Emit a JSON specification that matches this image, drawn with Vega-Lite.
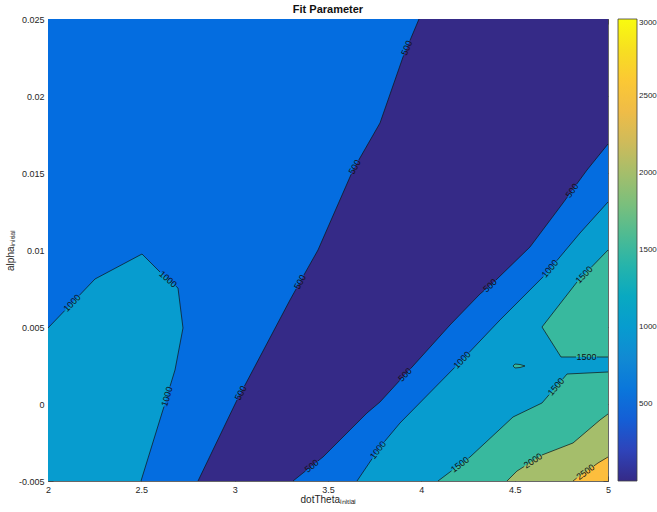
{
  "$schema": "https://vega.github.io/schema/vega-lite/v6.json",
  "width": 560,
  "height": 462,
  "autosize": {"type": "none"},
  "padding": {"left": 48, "top": 19, "right": 49, "bottom": 31},
  "background": "white",
  "title": {"text": "Fit Parameter", "fontSize": 11, "fontWeight": "bold", "font": "Liberation Sans", "color": "#111111", "offset": 0},
  "config": {
    "view": {"stroke": null},
    "axis": {
      "domainColor": "#404040", "domainWidth": 0.8,
      "tickColor": "#404040", "tickWidth": 0.8, "tickSize": -5,
      "labelPadding": 9, "labelFont": "Liberation Sans", "labelFontSize": 9, "labelColor": "#262626",
      "labelFlush": false, "labelOverlap": false,
      "titleFont": "Liberation Sans", "titleFontSize": 10, "titleFontWeight": "normal", "titleColor": "#262626",
      "grid": false, "zindex": 1
    }
  },
  "datasets": {
    "poly": [
      {"id": 0, "level": 500, "i": 0, "x": 2, "y": -0.005},
      {"id": 0, "level": 500, "i": 1, "x": 5, "y": -0.005},
      {"id": 0, "level": 500, "i": 2, "x": 5, "y": 0.025},
      {"id": 0, "level": 500, "i": 3, "x": 2, "y": 0.025},

      {"id": 1, "level": 0, "i": 0, "x": 2.8036, "y": -0.005},
      {"id": 1, "level": 0, "i": 1, "x": 3.0125, "y": 0.00026},
      {"id": 1, "level": 0, "i": 2, "x": 3.2964, "y": 0.006753},
      {"id": 1, "level": 0, "i": 3, "x": 3.4464, "y": 0.01},
      {"id": 1, "level": 0, "i": 4, "x": 3.6339, "y": 0.015195},
      {"id": 1, "level": 0, "i": 5, "x": 3.7786, "y": 0.018247},
      {"id": 1, "level": 0, "i": 6, "x": 3.9018, "y": 0.022532},
      {"id": 1, "level": 0, "i": 7, "x": 3.9875, "y": 0.025},
      {"id": 1, "level": 0, "i": 8, "x": 5, "y": 0.025},
      {"id": 1, "level": 0, "i": 9, "x": 5, "y": 0.016883},
      {"id": 1, "level": 0, "i": 10, "x": 4.8875, "y": 0.015195},
      {"id": 1, "level": 0, "i": 11, "x": 4.7589, "y": 0.013052},
      {"id": 1, "level": 0, "i": 12, "x": 4.5821, "y": 0.010195},
      {"id": 1, "level": 0, "i": 13, "x": 4.3839, "y": 0.007857},
      {"id": 1, "level": 0, "i": 14, "x": 4.3143, "y": 0.007143},
      {"id": 1, "level": 0, "i": 15, "x": 4.1536, "y": 0.00513},
      {"id": 1, "level": 0, "i": 16, "x": 3.9554, "y": 0.002468},
      {"id": 1, "level": 0, "i": 17, "x": 3.7786, "y": 0.00013},
      {"id": 1, "level": 0, "i": 18, "x": 3.7089, "y": -0.000584},
      {"id": 1, "level": 0, "i": 19, "x": 3.4732, "y": -0.003442},
      {"id": 1, "level": 0, "i": 20, "x": 3.3125, "y": -0.005},

      {"id": 2, "level": 1000, "i": 0, "x": 2, "y": -0.005},
      {"id": 2, "level": 1000, "i": 1, "x": 2, "y": 0.004935},
      {"id": 2, "level": 1000, "i": 2, "x": 2.2518, "y": 0.008117},
      {"id": 2, "level": 1000, "i": 3, "x": 2.5036, "y": 0.00974},
      {"id": 2, "level": 1000, "i": 4, "x": 2.6, "y": 0.008571},
      {"id": 2, "level": 1000, "i": 5, "x": 2.6964, "y": 0.007532},
      {"id": 2, "level": 1000, "i": 6, "x": 2.7232, "y": 0.004935},
      {"id": 2, "level": 1000, "i": 7, "x": 2.6804, "y": 0.002208},
      {"id": 2, "level": 1000, "i": 8, "x": 2.6107, "y": -0.000584},
      {"id": 2, "level": 1000, "i": 9, "x": 2.4982, "y": -0.005},

      {"id": 3, "level": 1000, "i": 0, "x": 3.6554, "y": -0.005},
      {"id": 3, "level": 1000, "i": 1, "x": 3.7786, "y": -0.002792},
      {"id": 3, "level": 1000, "i": 2, "x": 3.8857, "y": -0.001234},
      {"id": 3, "level": 1000, "i": 3, "x": 4.2179, "y": 0.002857},
      {"id": 3, "level": 1000, "i": 4, "x": 4.4214, "y": 0.005455},
      {"id": 3, "level": 1000, "i": 5, "x": 4.6518, "y": 0.008247},
      {"id": 3, "level": 1000, "i": 6, "x": 4.85, "y": 0.011104},
      {"id": 3, "level": 1000, "i": 7, "x": 5, "y": 0.013117},
      {"id": 3, "level": 1000, "i": 8, "x": 5, "y": -0.005},

      {"id": 4, "level": 1500, "i": 0, "x": 5, "y": 0.01},
      {"id": 4, "level": 1500, "i": 1, "x": 4.8339, "y": 0.007922},
      {"id": 4, "level": 1500, "i": 2, "x": 4.6464, "y": 0.005},
      {"id": 4, "level": 1500, "i": 3, "x": 4.7482, "y": 0.003052},
      {"id": 4, "level": 1500, "i": 4, "x": 5, "y": 0.003052},

      {"id": 5, "level": 1500, "i": 0, "x": 5, "y": 0.002078},
      {"id": 5, "level": 1500, "i": 1, "x": 4.7804, "y": 0.001948},
      {"id": 5, "level": 1500, "i": 2, "x": 4.6464, "y": 0.000065},
      {"id": 5, "level": 1500, "i": 3, "x": 4.4911, "y": -0.000844},
      {"id": 5, "level": 1500, "i": 4, "x": 4.2607, "y": -0.003442},
      {"id": 5, "level": 1500, "i": 5, "x": 4.0893, "y": -0.005},
      {"id": 5, "level": 1500, "i": 6, "x": 5, "y": -0.005},

      {"id": 6, "level": 2000, "i": 0, "x": 5, "y": -0.000649},
      {"id": 6, "level": 2000, "i": 1, "x": 4.9571, "y": -0.001039},
      {"id": 6, "level": 2000, "i": 2, "x": 4.8125, "y": -0.002532},
      {"id": 6, "level": 2000, "i": 3, "x": 4.6464, "y": -0.003312},
      {"id": 6, "level": 2000, "i": 4, "x": 4.5125, "y": -0.004351},
      {"id": 6, "level": 2000, "i": 5, "x": 4.4589, "y": -0.005},
      {"id": 6, "level": 2000, "i": 6, "x": 5, "y": -0.005},

      {"id": 7, "level": 2500, "i": 0, "x": 5, "y": -0.003442},
      {"id": 7, "level": 2500, "i": 1, "x": 4.9464, "y": -0.003831},
      {"id": 7, "level": 2500, "i": 2, "x": 4.8125, "y": -0.005},
      {"id": 7, "level": 2500, "i": 3, "x": 5, "y": -0.005},

      {"id": 8, "level": 1500, "i": 0, "x": 4.4911, "y": 0.002468},
      {"id": 8, "level": 1500, "i": 1, "x": 4.5018, "y": 0.002597},
      {"id": 8, "level": 1500, "i": 2, "x": 4.5286, "y": 0.002565},
      {"id": 8, "level": 1500, "i": 3, "x": 4.5554, "y": 0.002468},
      {"id": 8, "level": 1500, "i": 4, "x": 4.5286, "y": 0.00237},
      {"id": 8, "level": 1500, "i": 5, "x": 4.5018, "y": 0.002338}
    ],
    "lines": [
      {"seg": "a1", "i": 0, "x": 2.8036, "y": -0.005},
      {"seg": "a1", "i": 1, "x": 3.0125, "y": 0.00026},
      {"seg": "a2", "i": 0, "x": 3.0527, "y": 0.001169},
      {"seg": "a2", "i": 1, "x": 3.2964, "y": 0.006753},
      {"seg": "a2", "i": 2, "x": 3.3291, "y": 0.007468},
      {"seg": "a3", "i": 0, "x": 3.3709, "y": 0.008377},
      {"seg": "a3", "i": 1, "x": 3.4464, "y": 0.01},
      {"seg": "a3", "i": 2, "x": 3.6243, "y": 0.014922},
      {"seg": "a4", "i": 0, "x": 3.6645, "y": 0.015838},
      {"seg": "a4", "i": 1, "x": 3.7786, "y": 0.018247},
      {"seg": "a4", "i": 2, "x": 3.9018, "y": 0.022532},
      {"seg": "a4", "i": 3, "x": 3.9055, "y": 0.022636},
      {"seg": "a5", "i": 0, "x": 3.9388, "y": 0.023597},
      {"seg": "a5", "i": 1, "x": 3.9875, "y": 0.025},

      {"seg": "b1", "i": 0, "x": 3.3125, "y": -0.005},
      {"seg": "b1", "i": 1, "x": 3.3795, "y": -0.004351},
      {"seg": "b2", "i": 0, "x": 3.4459, "y": -0.003701},
      {"seg": "b2", "i": 1, "x": 3.4732, "y": -0.003442},
      {"seg": "b2", "i": 2, "x": 3.7089, "y": -0.000584},
      {"seg": "b2", "i": 3, "x": 3.7786, "y": 0.00013},
      {"seg": "b2", "i": 4, "x": 3.8836, "y": 0.001519},
      {"seg": "b3", "i": 0, "x": 3.9414, "y": 0.002286},
      {"seg": "b3", "i": 1, "x": 3.9554, "y": 0.002468},
      {"seg": "b3", "i": 2, "x": 4.1536, "y": 0.00513},
      {"seg": "b3", "i": 3, "x": 4.3143, "y": 0.007143},
      {"seg": "b3", "i": 4, "x": 4.3352, "y": 0.007357},
      {"seg": "b4", "i": 0, "x": 4.3995, "y": 0.008045},
      {"seg": "b4", "i": 1, "x": 4.5821, "y": 0.010195},
      {"seg": "b4", "i": 2, "x": 4.7589, "y": 0.013052},
      {"seg": "b4", "i": 3, "x": 4.782, "y": 0.013435},
      {"seg": "b5", "i": 0, "x": 4.8323, "y": 0.014279},
      {"seg": "b5", "i": 1, "x": 4.8875, "y": 0.015195},
      {"seg": "b5", "i": 2, "x": 5, "y": 0.016883},

      {"seg": "c1", "i": 0, "x": 2, "y": 0.004935},
      {"seg": "c1", "i": 1, "x": 2.0895, "y": 0.006065},
      {"seg": "c2", "i": 0, "x": 2.1677, "y": 0.007052},
      {"seg": "c2", "i": 1, "x": 2.2518, "y": 0.008117},
      {"seg": "c2", "i": 2, "x": 2.5036, "y": 0.00974},
      {"seg": "c2", "i": 3, "x": 2.6, "y": 0.008571},
      {"seg": "c3", "i": 0, "x": 2.6846, "y": 0.007656},
      {"seg": "c3", "i": 1, "x": 2.6964, "y": 0.007532},
      {"seg": "c3", "i": 2, "x": 2.7232, "y": 0.004935},
      {"seg": "c3", "i": 3, "x": 2.6804, "y": 0.002208},
      {"seg": "c3", "i": 4, "x": 2.6536, "y": 0.001143},
      {"seg": "c4", "i": 0, "x": 2.6214, "y": -0.000169},
      {"seg": "c4", "i": 1, "x": 2.6107, "y": -0.000584},
      {"seg": "c4", "i": 2, "x": 2.4982, "y": -0.005},

      {"seg": "d1", "i": 0, "x": 3.6554, "y": -0.005},
      {"seg": "d1", "i": 1, "x": 3.7363, "y": -0.003552},
      {"seg": "d2", "i": 0, "x": 3.8021, "y": -0.002448},
      {"seg": "d2", "i": 1, "x": 3.8857, "y": -0.001234},
      {"seg": "d2", "i": 2, "x": 4.1782, "y": 0.00237},
      {"seg": "d3", "i": 0, "x": 4.2564, "y": 0.003351},
      {"seg": "d3", "i": 1, "x": 4.4214, "y": 0.005455},
      {"seg": "d3", "i": 2, "x": 4.6529, "y": 0.008266},
      {"seg": "d4", "i": 0, "x": 4.7257, "y": 0.009305},
      {"seg": "d4", "i": 1, "x": 4.85, "y": 0.011104},
      {"seg": "d4", "i": 2, "x": 5, "y": 0.013117},

      {"seg": "e1", "i": 0, "x": 4.9105, "y": 0.008877},
      {"seg": "e1", "i": 1, "x": 5, "y": 0.01},
      {"seg": "e2", "i": 0, "x": 4.8339, "y": 0.007922},
      {"seg": "e2", "i": 1, "x": 4.6464, "y": 0.005},
      {"seg": "e2", "i": 2, "x": 4.7482, "y": 0.003052},
      {"seg": "e2", "i": 3, "x": 4.8286, "y": 0.003052},
      {"seg": "e3", "i": 0, "x": 4.9411, "y": 0.003052},
      {"seg": "e3", "i": 1, "x": 5, "y": 0.003052},

      {"seg": "f1", "i": 0, "x": 5, "y": 0.002078},
      {"seg": "f1", "i": 1, "x": 4.7804, "y": 0.001948},
      {"seg": "f1", "i": 2, "x": 4.7584, "y": 0.00163},
      {"seg": "f2", "i": 0, "x": 4.6845, "y": 0.000604},
      {"seg": "f2", "i": 1, "x": 4.6464, "y": 0.000065},
      {"seg": "f2", "i": 2, "x": 4.4911, "y": -0.000844},
      {"seg": "f2", "i": 3, "x": 4.2607, "y": -0.003442},
      {"seg": "f2", "i": 4, "x": 4.2521, "y": -0.003519},
      {"seg": "f3", "i": 0, "x": 4.1621, "y": -0.004338},
      {"seg": "f3", "i": 1, "x": 4.0893, "y": -0.005},

      {"seg": "g1", "i": 0, "x": 5, "y": -0.000649},
      {"seg": "g1", "i": 1, "x": 4.9571, "y": -0.001039},
      {"seg": "g1", "i": 2, "x": 4.8125, "y": -0.002532},
      {"seg": "g1", "i": 3, "x": 4.6464, "y": -0.003312},
      {"seg": "g2", "i": 0, "x": 4.5511, "y": -0.004058},
      {"seg": "g2", "i": 1, "x": 4.5125, "y": -0.004351},
      {"seg": "g2", "i": 2, "x": 4.4589, "y": -0.005},

      {"seg": "h1", "i": 0, "x": 5, "y": -0.003442},
      {"seg": "h1", "i": 1, "x": 4.9464, "y": -0.003831},
      {"seg": "h1", "i": 2, "x": 4.925, "y": -0.004019},
      {"seg": "h2", "i": 0, "x": 4.8323, "y": -0.004812},
      {"seg": "h2", "i": 1, "x": 4.8125, "y": -0.005},

      {"seg": "k1", "i": 0, "x": 4.4911, "y": 0.002468},
      {"seg": "k1", "i": 1, "x": 4.5018, "y": 0.002597},
      {"seg": "k1", "i": 2, "x": 4.5286, "y": 0.002565},
      {"seg": "k1", "i": 3, "x": 4.5554, "y": 0.002468},
      {"seg": "k1", "i": 4, "x": 4.5286, "y": 0.00237},
      {"seg": "k1", "i": 5, "x": 4.5018, "y": 0.002338},
      {"seg": "k1", "i": 6, "x": 4.4911, "y": 0.002468}
    ],
    "labels": [
      {"t": "500", "x": 3.0323, "y": 0.000714, "angle": -62},
      {"t": "500", "x": 3.35, "y": 0.007922, "angle": -61},
      {"t": "500", "x": 3.643, "y": 0.01539, "angle": -60},
      {"t": "500", "x": 3.9221, "y": 0.023117, "angle": -67},
      {"t": "500", "x": 3.4127, "y": -0.004026, "angle": -39},
      {"t": "500", "x": 3.9125, "y": 0.001903, "angle": -47},
      {"t": "500", "x": 4.3679, "y": 0.007695, "angle": -42},
      {"t": "500", "x": 4.8071, "y": 0.013857, "angle": -54},
      {"t": "1000", "x": 2.1286, "y": 0.006558, "angle": -46},
      {"t": "1000", "x": 2.6429, "y": 0.00811, "angle": 42},
      {"t": "1000", "x": 2.6375, "y": 0.000487, "angle": -73},
      {"t": "1000", "x": 3.7679, "y": -0.002987, "angle": -52},
      {"t": "1000", "x": 4.2179, "y": 0.002857, "angle": -46},
      {"t": "1000", "x": 4.6893, "y": 0.008786, "angle": -50},
      {"t": "1500", "x": 4.8714, "y": 0.00839, "angle": -46},
      {"t": "1500", "x": 4.8848, "y": 0.003052, "angle": 0},
      {"t": "1500", "x": 4.7214, "y": 0.001117, "angle": -49},
      {"t": "1500", "x": 4.2071, "y": -0.003929, "angle": -37},
      {"t": "2000", "x": 4.5982, "y": -0.003688, "angle": -33},
      {"t": "2500", "x": 4.8795, "y": -0.004416, "angle": -36}
    ]
  },
  "layer": [
    {
      "data": {"name": "poly"},
      "mark": {"type": "line", "filled": true, "interpolate": "linear", "strokeWidth": 0},
      "encoding": {
        "x": {"field": "x", "type": "quantitative",
              "scale": {"domain": [2, 5], "nice": false, "zero": false},
              "axis": {"orient": "bottom", "values": [2, 2.5, 3, 3.5, 4, 4.5, 5], "format": "~g", "title": "dotThetaᵢₙᵢₜᵢₐₗ", "titlePadding": 0}},
        "y": {"field": "y", "type": "quantitative",
              "scale": {"domain": [-0.005, 0.025], "nice": false, "zero": false},
              "axis": {"orient": "left", "values": [-0.005, 0, 0.005, 0.01, 0.015, 0.02, 0.025],
                       "labelExpr": "replace(format(datum.value, '~g'), '\u2212', '-')", "title": "alphaᵢₙᵢₜᵢₐₗ", "titlePadding": 3}},
        "detail": {"field": "id", "type": "nominal"},
        "order": {"field": "i", "type": "quantitative"},
        "color": {"field": "level", "type": "quantitative",
                  "scale": {"type": "linear", "interpolate": "rgb",
                            "domain": [0, 250, 500, 750, 1000, 1250, 1500, 1750, 2000, 2250, 2500, 2750, 3000],
                            "range": ["#352a87", "#2c4ac7", "#046de0", "#1485d4", "#079ccf", "#0aacbe", "#38b99e", "#71bf80", "#a5be6b", "#d9ba56", "#fdbe3d", "#f7d826", "#f9fb0e"]},
                  "legend": {"orient": "right", "offset": 8, "direction": "vertical", "gradientLength": 462, "gradientThickness": 19,
                             "values": [500, 1000, 1500, 2000, 2500, 3000], "format": "d", "title": null,
                             "labelFont": "Liberation Sans", "labelFontSize": 8, "labelColor": "#262626", "labelOffset": 2,
                             "gradientStrokeColor": "#404040", "gradientStrokeWidth": 0.8, "padding": 0, "labelOverlap": false}}
      }
    },
    {
      "data": {"name": "lines"},
      "mark": {"type": "line", "color": "#111111", "strokeWidth": 0.7},
      "encoding": {
        "x": {"field": "x", "type": "quantitative",
              "axis": {"orient": "top", "labels": false, "title": null, "values": [2, 2.5, 3, 3.5, 4, 4.5, 5]}},
        "y": {"field": "y", "type": "quantitative",
              "axis": {"orient": "right", "labels": false, "title": null, "values": [-0.005, 0, 0.005, 0.01, 0.015, 0.02, 0.025]}},
        "detail": {"field": "seg", "type": "nominal"},
        "order": {"field": "i", "type": "quantitative"}
      }
    },
    {
      "data": {"name": "labels"},
      "mark": {"type": "text", "font": "Liberation Sans", "fontSize": 9, "color": "#111111", "align": "center", "baseline": "middle"},
      "encoding": {
        "x": {"field": "x", "type": "quantitative", "axis": null},
        "y": {"field": "y", "type": "quantitative", "axis": null},
        "text": {"field": "t", "type": "nominal"},
        "angle": {"field": "angle", "type": "quantitative", "scale": null}
      }
    }
  ],
  "resolve": {"axis": {"x": "independent", "y": "independent"}}
}
